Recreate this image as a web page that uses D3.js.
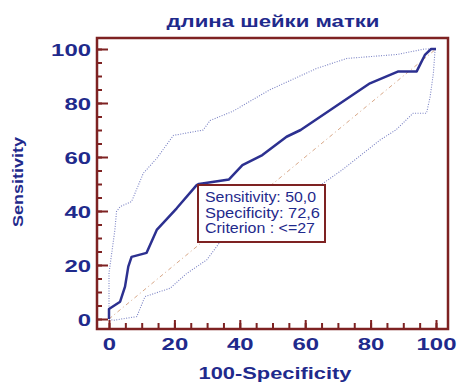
<!DOCTYPE html>
<html>
	<head>
		<meta charset="utf-8">
		<title>ROC</title>
		<script src="https://d3js.org/d3.v7.min.js"></script>
		<style>
			body { margin: 0; background: #fff; }
			text { font-family: "Liberation Sans", Arial, sans-serif; fill: #1f2a8c; font-weight: bold; }
		</style>
	</head>
	<body>
		<script>

		// ROC curve, 100-Specificity vs Sensitivity
		var rocX = [0, 0, 3.4, 4.9, 5.9, 6.9, 11.5, 14.6, 20.7, 26.8, 27.5, 36.7, 40.8, 46.9, 54.3, 58.6, 79.8, 88.5, 94.1, 96.6, 98.5, 100];
		var rocY = [0, 3.7, 6.4, 12, 19.4, 23, 24.5, 33, 41, 49.6, 50, 51.7, 57, 60.7, 67.5, 70, 87.3, 91.7, 91.7, 97.8, 100, 100];

		// upper confidence bound
		var upX = [0, 0, 1.8, 2.3, 3.4, 6.9, 10.5, 14.6, 19.7, 28.8, 30.9, 38, 49, 63.5, 72.7, 88.3, 96.5, 100];
		var upY = [0, 17, 33, 39.8, 41.6, 43.5, 54, 59.5, 68, 70, 73.5, 77, 84.8, 92.8, 96.5, 98, 100, 100];

		// lower confidence bound
		var loX = [0, 1.3, 8.5, 11, 18.7, 23.8, 29.9, 34, 64.7, 71.3, 82.9, 87.7, 93, 97.1, 98.2, 99.2, 99.7, 100];
		var loY = [0, -0.5, 0.9, 8.3, 11.4, 16.9, 21.9, 28.6, 49.6, 55.2, 66.3, 70, 76.2, 76.2, 82.3, 91, 99.6, 100];

		var majorTicks = [0, 20, 40, 60, 80, 100];
		var minorTicks = d3.range(0, 101, 5);
		var noteLines = ["Sensitivity: 50,0", "Specificity: 72,6", "Criterion : <=27"];
		var noteWidths = [111, 115, 110];

		var W = 458, H = 386;
		var frame = {left: 97, right: 448, top: 38, bottom: 329};
		var ink = "#1f2a8c", red = "#7e2222";

		var x = d3.scaleLinear().domain([0, 100]).range([109, 436]);
		var y = d3.scaleLinear().domain([0, 100]).range([319, 49]);

		var svg = d3.select("body").append("svg")
			.attr("width", W)
			.attr("height", H);

		var line = d3.line()
			.x(function(d){ return x(d[0]); })
			.y(function(d){ return y(d[1]); });

		function pairs(a, b){ return a.map(function(v, i){ return [v, b[i]]; }); }

		// diagonal reference
		svg.append("path")
			.attr("d", line([[0, 0], [100, 100]]))
			.attr("fill", "none")
			.attr("stroke", "#d8a888")
			.attr("stroke-width", 1)
			.attr("stroke-dasharray", "4,3,1,3");

		// confidence bounds
		[pairs(upX, upY), pairs(loX, loY)].forEach(function(p){
			svg.append("path")
				.attr("d", line(p))
				.attr("fill", "none")
				.attr("stroke", "#7a82c4")
				.attr("stroke-width", 1.1)
				.attr("stroke-dasharray", "1,1.5");
		});

		// roc curve
		svg.append("path")
			.attr("d", line(pairs(rocX, rocY)))
			.attr("fill", "none")
			.attr("stroke", "#2c3090")
			.attr("stroke-width", 2.5)
			.attr("stroke-linejoin", "round");

		// frame
		svg.append("rect")
			.attr("x", frame.left)
			.attr("y", frame.top)
			.attr("width", frame.right - frame.left)
			.attr("height", frame.bottom - frame.top)
			.attr("fill", "none")
			.attr("stroke", red)
			.attr("stroke-width", 2.5);

		// y axis
		var yMinor = svg.append("g")
			.attr("transform", "translate(" + frame.left + ",0)")
			.call(d3.axisLeft(y).tickValues(minorTicks).tickSize(-5).tickFormat(""));
		var yMajor = svg.append("g")
			.attr("transform", "translate(" + frame.left + ",0)")
			.call(d3.axisLeft(y).tickValues(majorTicks).tickSize(-11).tickPadding(6));

		// x axis
		var xMinor = svg.append("g")
			.attr("transform", "translate(0," + frame.bottom + ")")
			.call(d3.axisBottom(x).tickValues(minorTicks).tickSize(-6).tickFormat(""));
		var xMajor = svg.append("g")
			.attr("transform", "translate(0," + frame.bottom + ")")
			.call(d3.axisBottom(x).tickValues(majorTicks).tickSize(-9).tickPadding(9));

		[yMinor, yMajor, xMinor, xMajor].forEach(function(g){
			g.select(".domain").remove();
			g.selectAll("line").attr("stroke", red).attr("stroke-width", 2);
			g.selectAll("text")
				.attr("fill", ink)
				.style("font-size", "17px")
				.attr("textLength", function(d){ return String(d).length * 13.3; })
				.attr("lengthAdjust", "spacingAndGlyphs");
		});
		yMajor.selectAll("text").attr("dy", "0.36em");

		// title and axis titles
		svg.append("text")
			.attr("x", 273).attr("y", 27)
			.attr("text-anchor", "middle")
			.attr("textLength", 213).attr("lengthAdjust", "spacingAndGlyphs")
			.style("font-size", "17px")
			.text("длина шейки матки");

		svg.append("text")
			.attr("transform", "translate(23,182) rotate(-90)")
			.attr("text-anchor", "middle")
			.attr("textLength", 90).attr("lengthAdjust", "spacingAndGlyphs")
			.style("font-size", "15px")
			.text("Sensitivity");

		svg.append("text")
			.attr("x", 275).attr("y", 379)
			.attr("text-anchor", "middle")
			.attr("textLength", 153).attr("lengthAdjust", "spacingAndGlyphs")
			.style("font-size", "16px")
			.text("100-Specificity");

		// annotation box
		svg.append("rect")
			.attr("x", 198).attr("y", 185)
			.attr("width", 127).attr("height", 57)
			.attr("fill", "#fff")
			.attr("stroke", red)
			.attr("stroke-width", 2);

		svg.selectAll(".note").data(noteLines).enter().append("text")
			.attr("class", "note")
			.attr("x", 205)
			.attr("y", function(d, i){ return 202 + i * 15.5; })
			.attr("textLength", function(d, i){ return noteWidths[i]; })
			.attr("lengthAdjust", "spacingAndGlyphs")
			.style("font-size", "14px")
			.style("font-weight", "normal")
			.text(function(d){ return d; });

		</script>
	</body>
</html>
